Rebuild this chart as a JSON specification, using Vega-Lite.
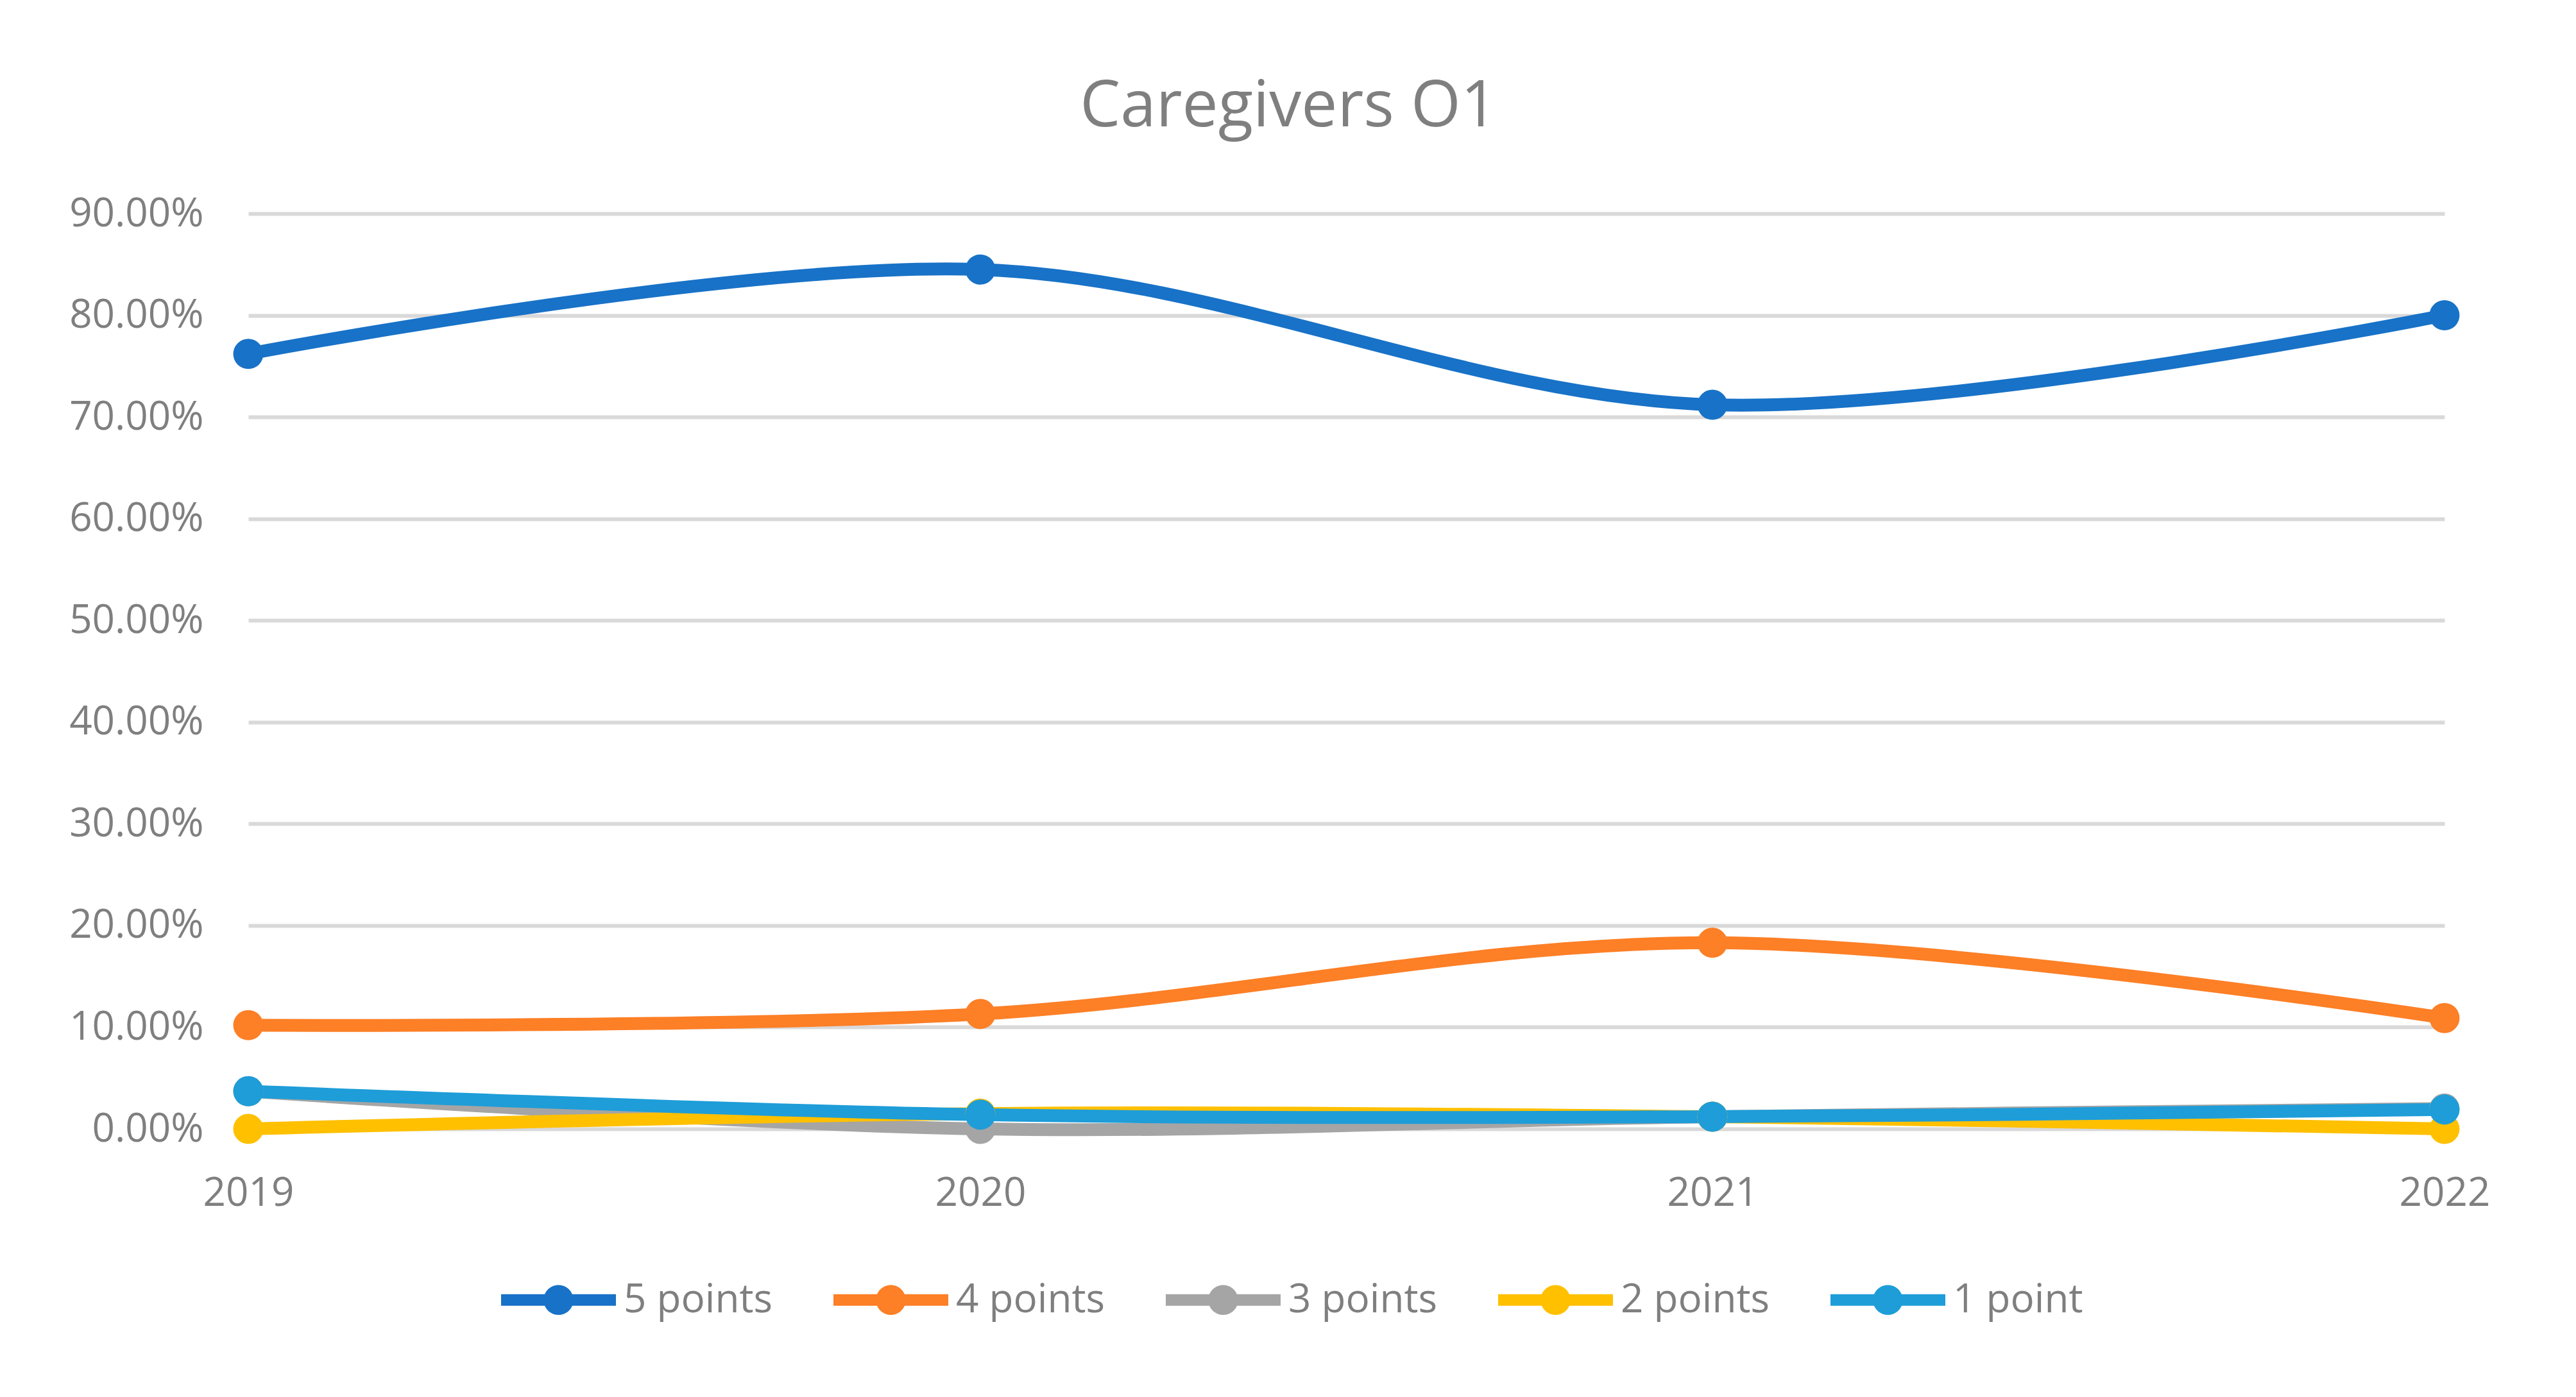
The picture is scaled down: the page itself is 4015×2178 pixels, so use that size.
{
  "$schema": "https://vega.github.io/schema/vega-lite/v6.json",
  "autosize": {"type": "none"},
  "padding": {"left": 387, "top": 333, "right": 205, "bottom": 418},
  "width": 3423,
  "height": 1427,
  "background": "white",
  "title": {
    "text": "Caregivers O1",
    "anchor": "middle",
    "frame": "group",
    "dx": -90,
    "offset": 84,
    "fontSize": 100,
    "font": "Open Sans",
    "fontWeight": "normal",
    "color": "#7F7F7F"
  },
  "data": {
    "values": [
      {"year": "2019", "series": "5 points", "value": 0.762},
      {"year": "2020", "series": "5 points", "value": 0.845},
      {"year": "2021", "series": "5 points", "value": 0.712},
      {"year": "2022", "series": "5 points", "value": 0.800},
      {"year": "2019", "series": "4 points", "value": 0.102},
      {"year": "2020", "series": "4 points", "value": 0.113},
      {"year": "2021", "series": "4 points", "value": 0.183},
      {"year": "2022", "series": "4 points", "value": 0.109},
      {"year": "2019", "series": "3 points", "value": 0.037},
      {"year": "2020", "series": "3 points", "value": 0.0},
      {"year": "2021", "series": "3 points", "value": 0.012},
      {"year": "2022", "series": "3 points", "value": 0.020},
      {"year": "2019", "series": "2 points", "value": 0.0},
      {"year": "2020", "series": "2 points", "value": 0.015},
      {"year": "2021", "series": "2 points", "value": 0.012},
      {"year": "2022", "series": "2 points", "value": 0.0},
      {"year": "2019", "series": "1 point", "value": 0.037},
      {"year": "2020", "series": "1 point", "value": 0.014},
      {"year": "2021", "series": "1 point", "value": 0.012},
      {"year": "2022", "series": "1 point", "value": 0.019}
    ]
  },
  "encoding": {
    "x": {
      "field": "year",
      "type": "ordinal",
      "scale": {"type": "point", "padding": 0},
      "axis": {
        "title": null,
        "labelAngle": 0,
        "domain": false,
        "ticks": false,
        "tickSize": 0,
        "grid": false,
        "labelPadding": 70,
        "labelFontSize": 62,
        "labelFont": "Open Sans",
        "labelColor": "#7F7F7F"
      }
    },
    "y": {
      "field": "value",
      "type": "quantitative",
      "scale": {"domain": [0, 0.9], "nice": false},
      "axis": {
        "title": null,
        "format": ".2%",
        "values": [0, 0.1, 0.2, 0.3, 0.4, 0.5, 0.6, 0.7, 0.8, 0.9],
        "domain": false,
        "ticks": false,
        "tickSize": 0,
        "grid": true,
        "gridColor": "#D9D9D9",
        "gridWidth": 6,
        "labelPadding": 70,
        "labelLimit": 1000,
        "labelFontSize": 62,
        "labelFont": "Open Sans",
        "labelColor": "#7F7F7F"
      }
    },
    "color": {
      "field": "series",
      "type": "nominal",
      "scale": {
        "domain": ["5 points", "4 points", "3 points", "2 points", "1 point"],
        "range": ["#1872C7", "#FD7F26", "#A5A5A5", "#FFC000", "#1E9DD8"]
      },
      "legend": {
        "title": null,
        "orient": "none",
        "legendX": 394,
        "legendY": 1604,
        "direction": "horizontal",
        "columns": 5,
        "gridAlign": "all",
        "columnPadding": 94,
        "symbolType": "M-1,-0.1 L1,-0.1 L1,0.1 L-1,0.1 Z M-0.26,0 A0.26,0.26 0 1,1 0.26,0 A0.26,0.26 0 1,1 -0.26,0 Z",
        "symbolSize": 32041,
        "symbolStrokeWidth": 0,
        "symbolOpacity": 1,
        "labelFontSize": 62,
        "labelFont": "Open Sans",
        "labelColor": "#7F7F7F",
        "labelOffset": 12,
        "labelLimit": 1000,
        "encode": {
          "symbols": {
            "update": {
              "fill": {"scale": "color", "field": "value"},
              "strokeWidth": {"value": 0},
              "opacity": {"value": 1}
            }
          }
        }
      }
    }
  },
  "layer": [
    {
      "mark": {"type": "line", "interpolate": "cardinal", "strokeWidth": 20, "strokeCap": "round"}
    },
    {
      "mark": {"type": "point", "filled": true, "size": 2209, "opacity": 1, "shape": "circle"}
    }
  ],
  "config": {
    "view": {"stroke": null}
  }
}
